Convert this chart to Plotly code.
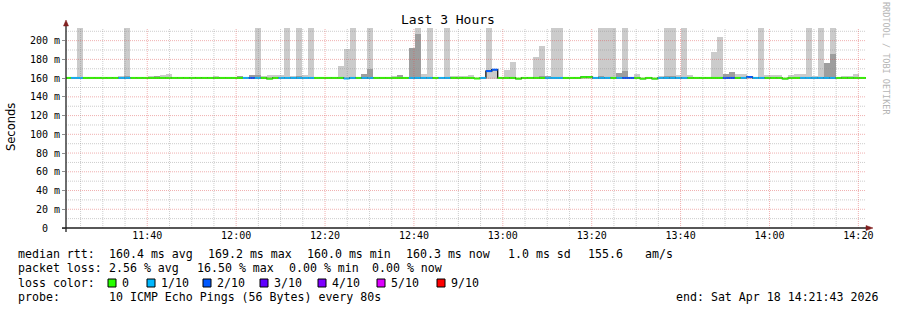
import plotly.graph_objects as go
from datetime import datetime, timedelta

# ---------------- data ----------------
END_TIME = datetime(2026, 4, 18, 14, 21, 43)
START_TIME = END_TIME - timedelta(hours=3)
FIRST_STEP = datetime(2026, 4, 18, 11, 21, 31, 500000)
STEP_SECONDS = 80

# median RTT per 80 s step (ms)
median_ms = [
    160.2, 160.2, 160.2, 160.2, 160.2, 160.2, 160.2, 160.2, 160.2, 160.2,
    160.2, 160.2, 160.2, 160.2, 160.2, 160.2, 160.2, 160.2, 160.2, 160.2,
    160.2, 160.2, 160.2, 160.2, 160.2, 160.2, 160.2, 160.2, 160.2, 160.2,
    160.2, 160.2, 160.2, 160.2, 159.5, 160.2, 160.2, 160.2, 160.2, 160.2,
    160.2, 160.2, 160.2, 160.2, 160.2, 160.2, 160.2, 159.6, 160.2, 160.2,
    160.2, 160.2, 160.2, 160.2, 160.2, 160.2, 160.2, 160.2, 160.2, 160.2,
    160.2, 160.2, 160.2, 160.2, 160.2, 160.2, 160.2, 160.2, 160.2, 159.6,
    160.2, 167.5, 169.0, 160.2, 160.2, 160.2, 159.5, 160.2, 160.2, 160.2,
    160.2, 160.2, 160.2, 160.2, 160.2, 160.2, 160.2, 161.0, 161.0, 160.2,
    160.2, 160.2, 160.2, 160.2, 160.2, 160.2, 160.2, 159.5, 160.2, 159.5,
    160.2, 160.2, 160.2, 160.2, 160.2, 160.2, 160.2, 160.2, 160.2, 160.2,
    160.2, 160.2, 160.2, 160.2, 160.2, 161.2, 160.2, 160.2, 160.2, 160.2,
    160.2, 159.5, 160.2, 160.2, 160.2, 160.2, 160.2, 160.2, 160.2, 160.2,
    160.2, 160.2, 160.2, 160.2, 160.2, 160.2,
]

# loss class per step (index into loss legend: 0, 1/10, 2/10, ...)
loss_class = [
    0, 1, 1, 0, 0, 0, 0, 0, 0, 1,
    1, 0, 0, 0, 0, 0, 0, 0, 0, 0,
    0, 0, 0, 0, 0, 0, 0, 0, 0, 0,
    1, 2, 1, 0, 0, 0, 1, 1, 1, 1,
    1, 1, 0, 0, 0, 0, 0, 1, 1, 0,
    1, 1, 0, 0, 0, 0, 0, 0, 1, 1,
    1, 1, 0, 1, 1, 0, 0, 0, 0, 0,
    1, 2, 2, 0, 0, 0, 0, 0, 0, 0,
    0, 1, 1, 1, 0, 0, 0, 0, 0, 1,
    1, 1, 0, 1, 2, 2, 0, 0, 0, 0,
    1, 1, 1, 1, 1, 0, 0, 0, 0, 0,
    0, 2, 2, 0, 1, 2, 1, 1, 0, 0,
    0, 0, 0, 0, 1, 1, 1, 1, 1, 1,
    0, 0, 0, 0, 0, 0,
]

N = None
# smoke: outer (light) top per step, ms  (225 = beyond the graph top)
smoke_outer = [
    N, N, 225, N, N, N, N, N, N, 162.5,
    225, N, N, N, 162.3, 162.3, 163.8, 164.8, N, N,
    N, N, N, N, N, 162.3, N, N, N, 162.3,
    N, 162.8, 225, 162.3, 163.0, 163.0, 163.0, 225, 162.0, 225,
    163.0, 225, N, N, N, N, 173.0, 191.0, 225, N,
    164.5, 225, N, N, N, 162.3, 163.0, N, 192.0, 225,
    164.0, 225, N, N, 225, 162.3, 162.3, 162.3, 162.8, N,
    N, 225, 169.0, N, 168.8, 177.3, N, N, N, 183.0,
    194.5, 162.3, 225, 225, N, N, N, 162.0, 162.0, N,
    225, 225, 225, 165.6, 225, 161.5, 164.0, N, N, N,
    162.3, 225, 225, 163.0, 225, 163.0, N, N, N, 188.0,
    204.0, 164.5, 166.7, 164.0, 164.0, 162.3, N, 225, 163.0, 163.0,
    163.0, N, 163.0, 164.0, 164.5, 225, 162.3, 225, 176.3, 225,
    N, 162.3, 162.3, 164.5, N, N,
]

# smoke: inner (dark) top per step, ms
smoke_inner = [
    N, N, N, N, N, N, N, N, N, N,
    162.5, N, N, N, N, 162.3, N, N, N, N,
    N, N, N, N, N, N, N, N, N, 162.3,
    N, 162.8, 162.8, N, N, N, N, N, N, 162.3,
    N, N, N, N, N, N, N, N, N, N,
    164.5, 170.0, N, N, N, N, 163.0, N, 192.0, 207.0,
    N, N, N, N, N, N, N, N, N, N,
    N, N, N, N, N, N, N, N, N, N,
    162.3, 162.3, N, N, N, N, N, N, N, N,
    162.3, N, N, 165.6, 167.7, N, N, N, N, N,
    N, 162.3, 162.3, N, N, N, N, N, N, N,
    N, 164.5, 166.7, N, N, N, N, N, N, N,
    N, N, N, N, N, N, N, N, 176.3, 186.0,
    N, N, N, N, N, N,
]

SMOKE_MIN = 159.3  # lowest ping, ms

loss_labels = ["0", "1/10", "2/10", "3/10", "4/10", "5/10", "9/10"]
loss_colors = ["#26ff00", "#00b8ff", "#0059ff", "#5e00ff", "#7e00ff", "#dd00ff", "#ff0000"]

y_tick_vals = [0, 20, 40, 60, 80, 100, 120, 140, 160, 180, 200]
y_tick_text = ["0\u00a0\u00a0"] + [f"{v} m" for v in y_tick_vals[1:]]
x_tick_labels = ["11:40", "12:00", "12:20", "12:40", "13:00", "13:20", "13:40", "14:00", "14:20"]

stats_rtt = ["median rtt:", "160.4 ms avg", "169.2 ms max", "160.0 ms min",
             "160.3 ms now", "1.0 ms sd", "155.6", "am/s"]
stats_loss = ["packet loss:", "2.56 % avg", "16.50 % max", "0.00 % min", "0.00 % now"]
probe_text = ["probe:", "10 ICMP Echo Pings (56 Bytes) every 80s"]
end_text = "end: Sat Apr 18 14:21:43 2026"

# ---------------- figure ----------------
MONO = "DejaVu Sans Mono"
W, H = 897, 310
L, R, T, B = 66, 31, 28, 82
PW, PH = W - L - R, H - T - B


def px(x):
    return (x - L) / PW


def py(y):
    return (H - B - y) / PH


n = len(median_ms)
t_left = [FIRST_STEP + timedelta(seconds=STEP_SECONDS * k) for k in range(n)]
t_right = [t + timedelta(seconds=STEP_SECONDS) for t in t_left]
t_mid = [t + timedelta(seconds=STEP_SECONDS / 2) for t in t_left]

fig = go.Figure()

fig.add_trace(go.Bar(
    x=t_mid, y=[(h - SMOKE_MIN) if h is not None else None for h in smoke_outer],
    base=SMOKE_MIN, width=STEP_SECONDS * 1000, marker=dict(color="#cbcbcb", line=dict(width=0)),
    hoverinfo="skip"))
fig.add_trace(go.Bar(
    x=t_mid, y=[(h - SMOKE_MIN) if h is not None else None for h in smoke_inner],
    base=SMOKE_MIN, width=STEP_SECONDS * 1000, marker=dict(color="#9e9e9e", line=dict(width=0)),
    hoverinfo="skip"))

# median as step line (black connectors) then coloured by loss
fig.add_trace(go.Scatter(
    x=t_left + [t_right[-1]], y=median_ms + [median_ms[-1]], mode="lines",
    line=dict(color="#000000", width=1.2, shape="hv"), hoverinfo="skip"))
for c, col in enumerate(loss_colors):
    xs, ys = [], []
    for k in range(n):
        if loss_class[k] == c:
            xs += [t_left[k], t_right[k], None]
            ys += [median_ms[k], median_ms[k], None]
    if xs:
        fig.add_trace(go.Scatter(x=xs, y=ys, mode="lines",
                                 line=dict(color=col, width=2), hoverinfo="skip"))

shapes = []
# grid (drawn above the smoke as rrdtool does)
for v in range(10, 214, 10):
    major = v % 20 == 0
    shapes.append(dict(type="line", xref="paper", yref="y", x0=0, x1=1, y0=v, y1=v, layer="above",
                       line=dict(color="rgba(222,79,79,0.45)" if major else "rgba(143,143,143,0.45)",
                                 width=1, dash="1px,1px")))
g = datetime(2026, 4, 18, 11, 25)
while g < END_TIME:
    major = g.minute % 20 == 0
    shapes.append(dict(type="line", xref="x", yref="paper", x0=g, x1=g, y0=0, y1=1, layer="above",
                       line=dict(color="rgba(222,79,79,0.45)" if major else "rgba(143,143,143,0.45)",
                                 width=1, dash="1px,1px")))
    g += timedelta(minutes=5)

# axes with arrows
shapes.append(dict(type="line", xref="paper", yref="paper", x0=px(62), x1=px(868), y0=0, y1=0,
                   layer="above", line=dict(color="#1f1f1f", width=1.3)))
shapes.append(dict(type="line", xref="paper", yref="paper", x0=0, x1=0, y0=py(232), y1=py(24),
                   layer="above", line=dict(color="#1f1f1f", width=1.3)))
shapes.append(dict(type="path", xref="paper", yref="paper", layer="above",
                   path=f"M {px(866)},{py(225.5)} L {px(873)},{py(228)} L {px(866)},{py(230.5)} Z",
                   fillcolor="#801f1f", line=dict(color="#801f1f", width=0.5)))
shapes.append(dict(type="path", xref="paper", yref="paper", layer="above",
                   path=f"M {px(63.5)},{py(26)} L {px(66)},{py(20)} L {px(68.5)},{py(26)} Z",
                   fillcolor="#801f1f", line=dict(color="#801f1f", width=0.5)))

ann = []
ann.append(dict(text="Last 3 Hours", x=px(448), y=py(19), xref="paper", yref="paper",
                xanchor="center", yanchor="middle",
                showarrow=False, font=dict(family=MONO, size=13, color="#000")))
ann.append(dict(text="Seconds", x=px(11), y=py(127), xref="paper", yref="paper", textangle=-90,
                xanchor="center", yanchor="middle",
                showarrow=False, font=dict(family="DejaVu Sans", size=11.5, color="#000")))
ann.append(dict(text="RRDTOOL / TOBI OETIKER", x=px(886), y=py(59), xref="paper", yref="paper",
                xanchor="center", yanchor="middle",
                textangle=90, showarrow=False, font=dict(family=MONO, size=8.5, color="#b4b4b4")))


def text_at(s, x, y, anchor="left"):
    ann.append(dict(text=s, x=px(x), y=py(y), xref="paper", yref="paper", xanchor=anchor,
                    yanchor="middle", showarrow=False,
                    font=dict(family=MONO, size=11.6, color="#000")))


for s, x in zip(stats_rtt, [16, 107, 206, 305, 404, 506, 586, 643]):
    text_at(s, x, 254)
for s, x in zip(stats_loss, [16, 107, 195, 287, 370]):
    text_at(s, x, 268)
text_at("loss color:", 16, 283)
for lab, col, bx in zip(loss_labels, loss_colors, [108, 147, 203, 260, 318, 377, 437]):
    shapes.append(dict(type="rect", xref="paper", yref="paper", x0=px(bx), x1=px(bx + 8),
                       y0=py(287), y1=py(279), fillcolor=col, line=dict(color="#000", width=1),
                       layer="above"))
    text_at(lab, bx + 12, 283)
text_at(probe_text[0], 16, 297)
text_at(probe_text[1], 107, 297)
text_at(end_text, 880, 297, anchor="right")

fig.update_layout(
    width=W, height=H, margin=dict(l=L, r=R, t=T, b=B, pad=0),
    paper_bgcolor="#ffffff", plot_bgcolor="#ffffff",
    barmode="overlay", bargap=0, showlegend=False,
    shapes=shapes, annotations=ann,
    xaxis=dict(type="date", range=[START_TIME, END_TIME], showgrid=False, zeroline=False,
               showline=False,
               tickvals=[datetime.strptime("2026-04-18 " + s, "%Y-%m-%d %H:%M") for s in x_tick_labels],
               ticktext=x_tick_labels, ticks="", tickfont=dict(family=MONO, size=10, color="#000")),
    yaxis=dict(range=[0, 213.5], showgrid=False, zeroline=False, showline=False,
               tickvals=y_tick_vals, ticktext=y_tick_text, ticks="outside", ticklen=3,
               tickcolor="#8f8f8f", tickfont=dict(family=MONO, size=10, color="#000")),
)

fig.write_html("out.html")
